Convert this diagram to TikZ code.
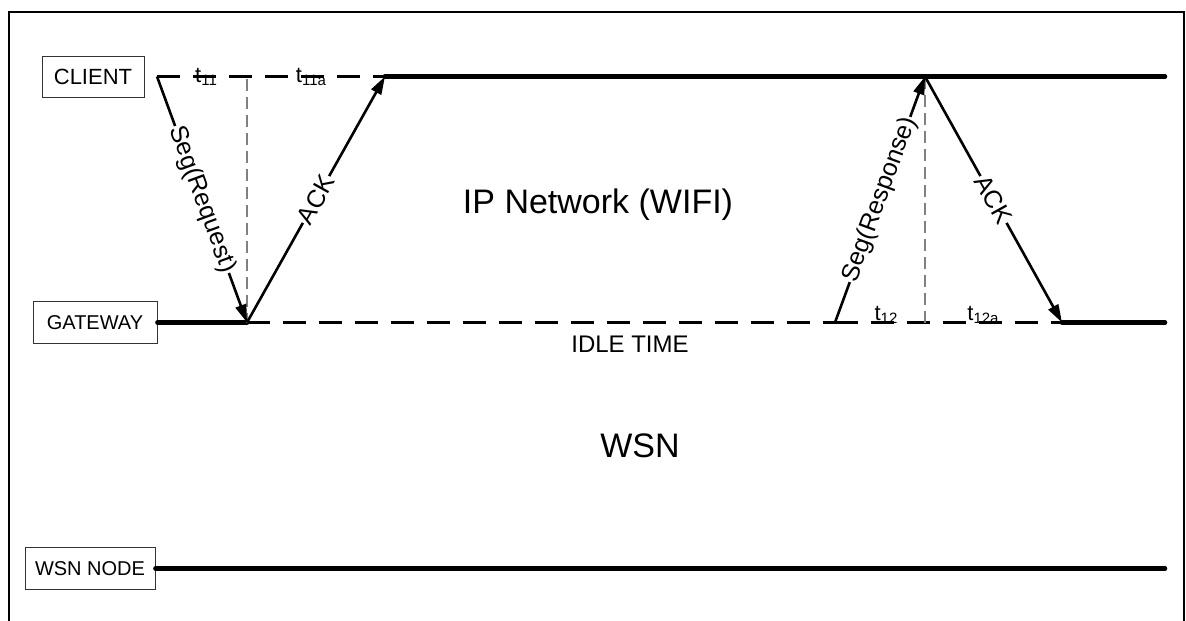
\documentclass[tikz,border=0pt]{standalone}
\usepackage{fontspec}
\setmainfont{Liberation Sans}
\usetikzlibrary{arrows.meta}
\newcommand{\tsub}[1]{\raisebox{-0.3ex}{\fontsize{15}{17}\selectfont #1}}
\tikzset{
  seqbox/.style={draw=black!80, line width=0.9pt, inner sep=0pt,
    font=\fontsize{20}{24}\selectfont},
  timeline/.style={line width=4.5pt, line cap=round},
  idleline/.style={line width=3.2pt, dash pattern=on 23pt off 13pt},
  seqarrow/.style={-{Triangle[length=18pt,width=11pt]}, line width=2.6pt},
  msglabel/.style={sloped, midway, fill=white, inner sep=1pt,
    font=\fontsize{25}{29}\selectfont},
  guide/.style={black!50, line width=1.2pt, dash pattern=on 12pt off 6pt},
  tlabel/.style={anchor=base, font=\fontsize{22}{26}\selectfont},
  bigtext/.style={anchor=base, font=\fontsize{34}{40}\selectfont},
}

\begin{document}
\begin{tikzpicture}[x=1pt,y=-1pt]
  \useasboundingbox (0,0) rectangle (1186,621);
  \clip (0,0) rectangle (1186,621);
  % Rahmen (unten offen)
  \draw[line width=2pt] (9,640) -- (9,11.5) -- (1184,11.5) -- (1184,640);

  % Teilnehmer
  \node[seqbox, minimum width=102pt, minimum height=41pt,
    font=\fontsize{22}{26}\selectfont] (client) at (93,76.5) {CLIENT};
  \node[seqbox, minimum width=124pt, minimum height=42pt] (gateway) at (95,322.5) {GATEWAY};
  \node[seqbox, minimum width=130pt, minimum height=42pt] (wsnnode) at (90,568.5) {WSN NODE};

  % Zeitpunkte
  \coordinate (c0) at (157,76.5);
  \coordinate (c1) at (385,76.5);
  \coordinate (c2) at (925,76.5);
  \coordinate (c3) at (1165,76.5);
  \coordinate (g1) at (247,322.5);
  \coordinate (g2) at (835,322.5);
  \coordinate (g3) at (1062,322.5);
  \coordinate (g4) at (1165,322.5);
  \coordinate (w1) at (1165,568.5);

  % Zeitlinien
  \draw[idleline] (c0) -- (c1);
  \draw[timeline] (c1) -- (c3);
  \draw[timeline] (gateway.east) -- (g1);
  \draw[idleline] (g1) -- (g2);
  \draw[idleline] (g2) -- (g3);
  \draw[timeline] (g3) -- (g4);
  \draw[timeline] (wsnnode.east) -- (w1);

  % Hilfslinien
  \draw[guide] ([yshift=-2pt]g1 |- c0) -- (g1);
  \draw[guide] (c2) -- (c2 |- g1);

  % Nachrichten
  \draw[seqarrow] (c0) -- node[msglabel] {Seg(Request)} (g1);
  \draw[seqarrow] (g1) -- node[msglabel] {ACK} (c1);
  \draw[seqarrow] (g2) -- node[msglabel] {Seg(Response)} (c2);
  \draw[seqarrow] (c2) -- node[msglabel] {ACK} (g3);

  % Zeitmarken
  \node[tlabel] (t11) at (206,82) {t\tsub{11}};
  \node[tlabel] (t11a) at (311,82) {t\tsub{11a}};
  \node[tlabel] (t12) at (886,320) {t\tsub{12}};
  \node[tlabel] (t12a) at (983,320) {t\tsub{12a}};

  % Bereiche
  \node[anchor=base, font=\fontsize{24}{28}\selectfont] (idle) at (630,352) {IDLE TIME};
  \node[bigtext] (ipnet) at (598,213) {IP Network (WIFI)};
  \node[bigtext] (wsn) at (640,457) {WSN};
\end{tikzpicture}
\end{document}
